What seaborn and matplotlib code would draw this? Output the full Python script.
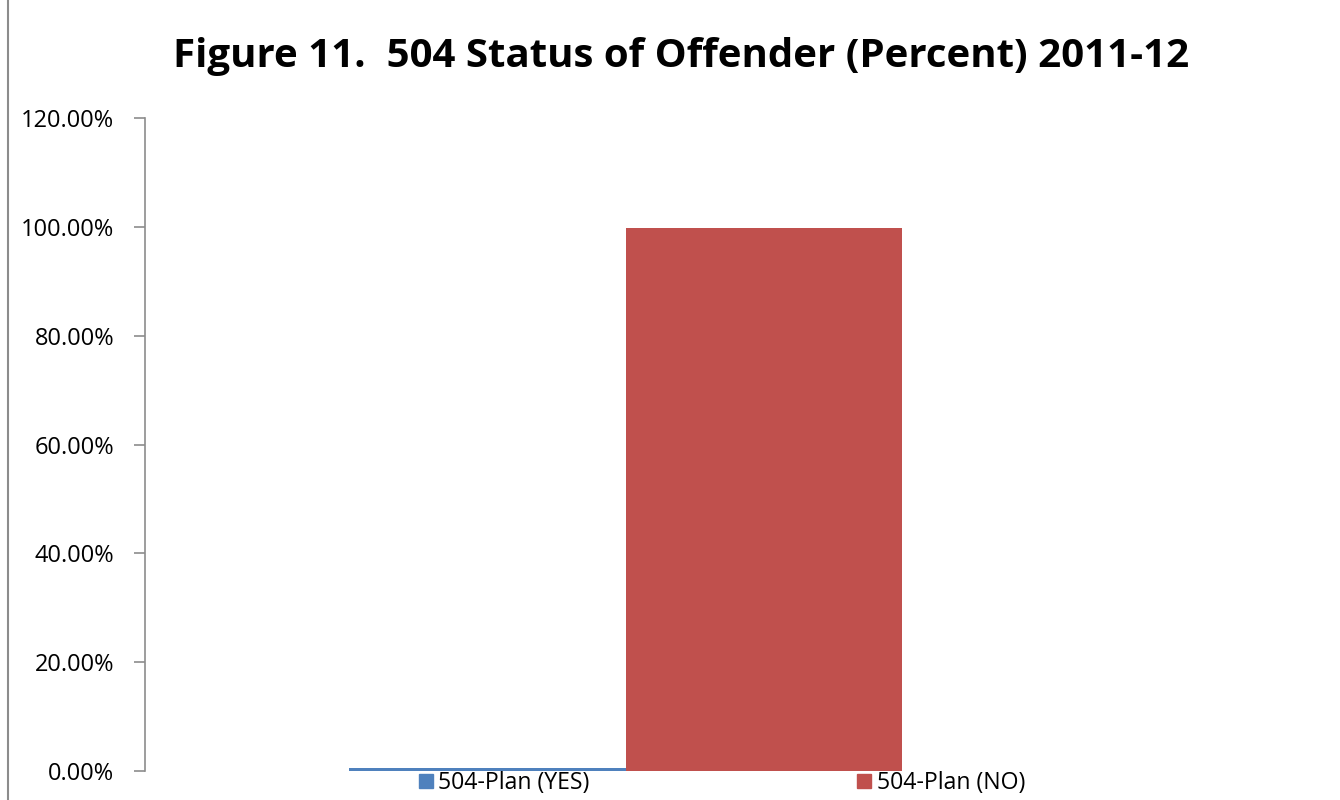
import matplotlib
matplotlib.use("Agg")
import matplotlib.pyplot as plt
import matplotlib.lines as mlines
from matplotlib.ticker import FuncFormatter
import pandas as pd
import seaborn as sns

# Data: 504 plan status of offenders, 2011-12
series = ["504-Plan (YES)", "504-Plan (NO)"]
percents = [0.6, 99.8]
colors = ["#4F81BD", "#C0504D"]
yticks = [0, 20, 40, 60, 80, 100, 120]

df = pd.DataFrame({"Group": ["2011-12"] * len(series), "Status": series, "Percent": percents})

sns.set_style("white")
plt.rcParams["font.family"] = ["Open Sans", "DejaVu Sans"]
plt.rcParams["text.color"] = "black"
plt.rcParams["ytick.labelcolor"] = "black"

fig = plt.figure(figsize=(13.4, 8), dpi=100)
ax = fig.add_axes([0.108, 0.036, 0.718, 0.8165])

sns.barplot(data=df, x="Group", y="Percent", hue="Status", palette=colors,
            width=0.575, saturation=1, linewidth=0, ax=ax, legend=False)

ax.set_ylim(0, 120)
ax.set_yticks(yticks)
ax.yaxis.set_major_formatter(FuncFormatter(lambda v, p: f"{v:.2f}%"))
ax.tick_params(axis="y", left=True, length=8, width=1.2, color="#8c8c8c",
               labelsize=17, labelcolor="black", pad=14, direction="out")
ax.set_xticks([])
ax.set_xlabel("")
ax.set_ylabel("")
for s in ["top", "right", "bottom"]:
    ax.spines[s].set_visible(False)
ax.spines["left"].set_color("#8c8c8c")
ax.spines["left"].set_linewidth(1.2)

fig.text(0.508, 0.93, "Figure 11.  504 Status of Offender (Percent) 2011-12",
         ha="center", va="center", fontsize=29, fontweight="bold", color="black")

# legend below the plot
handles = [plt.Rectangle((0, 0), 1, 1, color=c) for c in colors]
fig.legend(handles, series, loc="center", bbox_to_anchor=(722 / 1340, 1 - 783 / 800),
           ncol=2, frameon=False, fontsize=16.6, handlelength=0.6, handleheight=0.6,
           handletextpad=0.25, columnspacing=11.6, borderpad=0)

# thin border line at left edge
fig.add_artist(mlines.Line2D([8 / 1340, 8 / 1340], [0, 1], color="#8c8c8c", lw=1.5))

fig.savefig("out.png", dpi=100)
